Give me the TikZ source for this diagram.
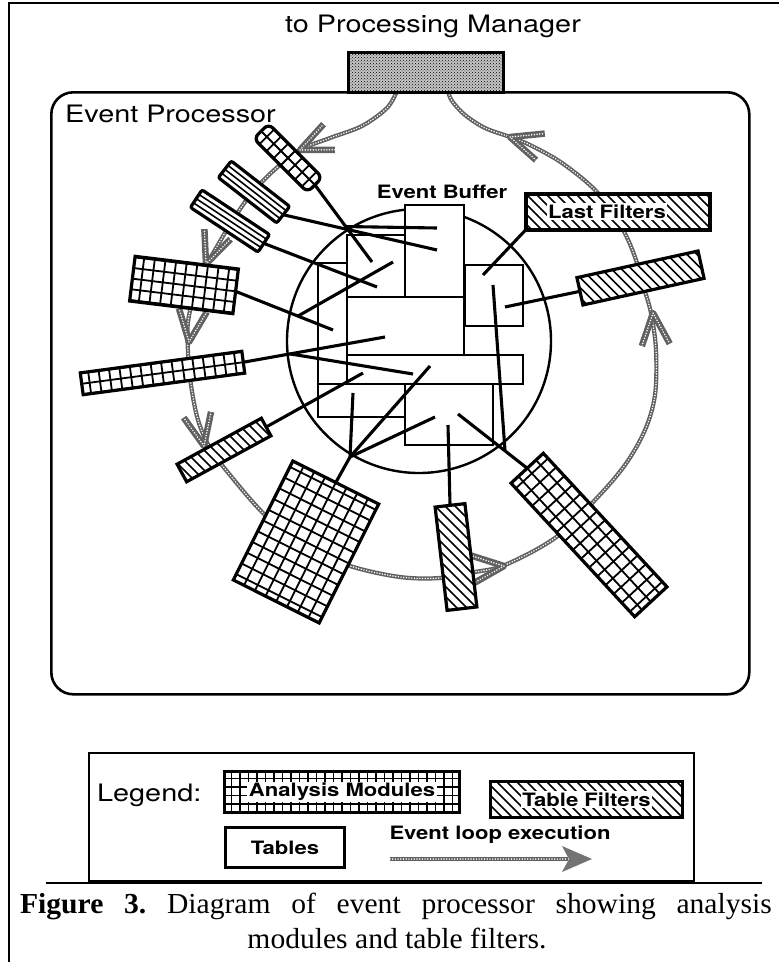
\documentclass[tikz,border=0pt]{standalone}
\usepackage{fontspec}
\newfontfamily\hv{TeX Gyre Heros}
\newfontfamily\tm{Liberation Serif}
\usetikzlibrary{calc,patterns}
\newcommand\sx[1]{\scalebox{1.2}[1]{#1}}
\tikzset{
 modbox/.style={draw, line width=3.2pt, inner sep=0pt, outer sep=0pt},
 gridline/.style={line width=1.8pt},
 hatchline/.style={line width=1.6pt},
 conn/.style={line width=3.1pt},
 tbl/.style={draw, line width=2.6pt, fill=white, inner sep=0pt, outer sep=0pt},
 loopst/.style={draw=black!62, line width=4.2pt, line join=round, postaction={draw=white, line width=1.7pt, line cap=round, dash pattern=on 0pt off 2.7pt}},
 headst/.style={draw=black!62, line width=6.5pt, line join=round, postaction={draw=white, line width=1.7pt, line cap=round, dash pattern=on 0pt off 2.7pt}},
 lhead/.pic={\draw[headst] (-32,-14) -- (0,0) -- (-32,14);},
 lbl/.style={font=\hv\fontsize{24}{28}\selectfont, inner sep=0pt},
 blbl/.style={font=\hv\bfseries\fontsize{18.4}{22}\selectfont, inner sep=0pt},
}
% grid-patterned module: name cx cy rot L W step extra
\newcommand\gridmod[8]{%
 \begin{scope}[shift={(#2,#3)},rotate=#4]
  \fill[white,#8] (-#5/2,-#6/2) rectangle (#5/2,#6/2);
  \begin{scope}
   \clip[#8] (-#5/2,-#6/2) rectangle (#5/2,#6/2);
   \foreach \i in {-10,...,10}{
     \draw[gridline] (\i*#7,-80) -- (\i*#7,80);
     \draw[gridline] (-125,\i*#7) -- (125,\i*#7);}
  \end{scope}
 \end{scope}
 \node[modbox,rotate=#4,minimum width=#5pt,minimum height=#6pt,#8] (#1) at (#2,#3) {};
}
% hatched filter: name cx cy rot L W
\newcommand\hatchmod[6]{%
 \begin{scope}[shift={(#2,#3)},rotate=#4]
  \fill[white] (-#5/2,-#6/2) rectangle (#5/2,#6/2);
  \begin{scope}
   \clip (-#5/2,-#6/2) rectangle (#5/2,#6/2);
   \begin{scope}[rotate={0-(#4)}]
    \foreach \i in {-16,...,16} \draw[hatchline] (\i*10-90,-90) -- (\i*10+90,90);
   \end{scope}
  \end{scope}
 \end{scope}
 \node[modbox,rotate=#4,minimum width=#5pt,minimum height=#6pt] (#1) at (#2,#3) {};
}
% striped filter: name cx cy rot L W
\newcommand\stripemod[6]{%
 \begin{scope}[shift={(#2,#3)},rotate=#4]
  \fill[white] (-#5/2,-#6/2) rectangle (#5/2,#6/2);
  \foreach \v in {-5,0,5} \draw[hatchline] (-#5/2,\v) -- (#5/2,\v);
 \end{scope}
 \node[modbox,rotate=#4,minimum width=#5pt,minimum height=#6pt,rounded corners=2pt] (#1) at (#2,#3) {};
}
\newcommand\tbox[5]{\node[tbl,anchor=north west,minimum width={(#4-#2)*1pt},minimum height={(#5-#3)*1pt}] (#1) at (#2,#3) {};}
\begin{document}
\begin{tikzpicture}[x=1pt,y=-1pt]
\useasboundingbox (0,0) rectangle (779,962);
% frame
\draw[line width=2pt] (9,962) -- (9,3) -- (779,3);
\node[lbl,anchor=base] (pmlbl) at (433,32) {\sx{to Processing Manager}};
\node[draw,line width=2.6pt,rounded corners=22pt,minimum width=698pt,minimum height=602pt,anchor=north west,inner sep=0pt] (ep) at (50,91) {};
\node[lbl,anchor=base west] (eplbl) at (65,122) {\sx{Event Processor}};
% event loop
\coordinate (ls) at (397,91); \coordinate (le) at (448,91);
\draw[loopst] plot[smooth,tension=0.55] coordinates {(397,91) (387,108) (362,126) (330,138) (300,150) (272,172) (248,198) (228,228) (212,255) (205,266) (195,292) (188,322) (188,352) (191,385) (198,420) (210,448) (230,475) (263,513) (300,545) (350,566) (400,577) (440,578) (475,572) (505,565) (555,538) (595,500) (625,465) (645,430) (655,395) (656,350) (651,313) (643,285) (635,257) (622,228) (597,192) (562,163) (530,145) (510,137) (485,128) (465,115) (452,101) (448,91)};
\pic[rotate=-156] at (300,150) {lhead};
\pic[rotate=-111] at (206,264) {lhead};
\pic[rotate=-97] at (189,342) {lhead};
\pic[rotate=-78] at (204,446) {lhead};
\pic[rotate=6] at (504,566) {lhead};
\pic[rotate=95] at (653,313) {lhead};
\pic[rotate=-198] at (510,137) {lhead};
% processing manager box
\node[draw,line width=2.8pt,anchor=north west,minimum width=155pt,minimum height=40pt,inner sep=0pt,preaction={fill=gray!45},pattern=crosshatch dots,pattern color=black] (pm) at (347,51) {};
% event buffer
\node[draw,circle,line width=2.4pt,minimum size=264pt,inner sep=0pt] (buf) at (419,341) {};
\node[blbl,anchor=base] (eb) at (442,198) {\sx{Event Buffer}};
\tbox{ta}{318}{263}{347}{384}
\tbox{tb}{318}{384}{405}{417}
\tbox{tc}{347}{235}{405}{297}
\tbox{td}{405}{205}{464}{297}
\tbox{te}{347}{297}{464}{355}
\tbox{tf}{347}{355}{523}{384}
\tbox{tg}{465}{265}{523}{326}
\tbox{th}{405}{384}{493}{445}
% modules and filters
\gridmod{m1}{288}{158}{-45}{76}{21}{10}{rounded corners=6pt}
\stripemod{m2}{254}{192}{-37.9}{74}{21}
\stripemod{m3}{230}{221}{-33.5}{81}{21}
\gridmod{m4}{184}{285}{-7}{104}{45}{10.7}{}
\gridmod{m5}{162.5}{373}{7.6}{163}{22}{10.5}{}
\hatchmod{m6}{224}{450}{28.6}{96}{20}
\gridmod{m7}{306}{542}{-26.6}{96}{133}{12}{}
\hatchmod{m8}{640.5}{278}{12.4}{124}{28}
\hatchmod{m9}{456}{557}{-83.4}{104}{30}
\gridmod{m10}{589}{535}{-47.2}{182}{44}{12}{}
% last filters
\node[draw,line width=2.6pt,fill=white,minimum width=183pt,minimum height=35pt,anchor=north west,inner sep=0pt] (lf) at (525,193) {};
\begin{scope}
 \clip (525,193) rectangle (708,228);
 \foreach \c in {470,480,...,710} \draw[hatchline] (\c,188) -- (\c+45,233);
\end{scope}
\draw[line width=2.6pt] (lf.north west) rectangle (lf.south east);
\node[blbl,fill=white,inner sep=1.5pt,anchor=base] (lft) at (607,218) {\sx{Last Filters}};
% connector end points
\coordinate (e1) at (372,262);
\coordinate (j1) at ($(m1.east)!0.54!(e1)$);
\coordinate (e2a) at (437,228);
\coordinate (e2b) at (437,250);
\coordinate (e3) at (377,287);
\coordinate (e4a) at (333,330);
\coordinate (e4b) at (393,262);
\coordinate (j4) at ($(m4.east)!0.64!(e4a)$);
\coordinate (e5a) at (385,337);
\coordinate (e5b) at (413,374);
\coordinate (j5) at ($(m5.east)!0.33!(e5a)$);
\coordinate (e6) at (363,373);
\coordinate (j7) at (350,457);
\coordinate (e7a) at (353,393);
\coordinate (e7b) at (430,366);
\coordinate (e7c) at (435,417);
\coordinate (e8) at (505,307);
\coordinate (e9) at (448,425);
\coordinate (e10) at (458,414);
\coordinate (j10) at ($(m10.west)!0.32!(e10)$);
\coordinate (e11) at (493,285);
\coordinate (e12) at (483,275);
% connectors
\draw[conn] (m1.east) -- (e1);
\draw[conn] (m2.east) -- (e2b);
\draw[conn] (j1) -- (e2a);
\draw[conn] (m3.east) -- (e3);
\draw[conn] (m4.east) -- (e4a);
\draw[conn] (j4) -- (e4b);
\draw[conn] (m5.east) -- (e5a);
\draw[conn] (j5) -- (e5b);
\draw[conn] (m6.east) -- (e6);
\draw[conn] (m7.north) -- (j7) -- (e7a);
\draw[conn] (j7) -- (e7b);
\draw[conn] (j7) -- (e7c);
\draw[conn] (m8.west) -- (e8);
\draw[conn] (m9.west) -- (e9);
\draw[conn] (m10.west) -- (e10);
\draw[conn] (j10) -- (e11);
\draw[conn] (lf.south west) -- (e12);
% legend
\node[draw,line width=2.2pt,anchor=north west,minimum width=605pt,minimum height=128pt,inner sep=0pt] (leg) at (88,752) {};
\node[lbl,anchor=base west] (legt) at (97,801) {\sx{Legend:}};
\fill[white] (223,770) rectangle (458,811);
\begin{scope}
 \clip (223,770) rectangle (458,811);
 \foreach \i in {0,...,28} \draw[line width=1.4pt] (223+\i*8.5,770) -- (223+\i*8.5,811);
 \foreach \i in {0,...,6} \draw[line width=1.4pt] (223,770+\i*8.5) -- (458,770+\i*8.5);
\end{scope}
\node[draw,line width=3pt,anchor=north west,minimum width=235pt,minimum height=41pt,inner sep=0pt] (lam) at (223,770) {};
\node[blbl,fill=white,inner sep=1.5pt] (lamt) at (lam.center) {\sx{Analysis Modules}};
\fill[white] (489,780) rectangle (681,816);
\begin{scope}
 \clip (489,780) rectangle (681,816);
 \foreach \c in {440,450,...,690} \draw[hatchline] (\c,775) -- (\c+45,820);
\end{scope}
\node[draw,line width=3pt,anchor=north west,minimum width=192pt,minimum height=36pt,inner sep=0pt] (ltf) at (489,780) {};
\node[blbl,fill=white,inner sep=1.5pt] (ltft) at (ltf.center) {\sx{Table Filters}};
\node[draw,line width=3pt,anchor=north west,minimum width=119pt,minimum height=40pt,inner sep=0pt] (ltb) at (224,826) {};
\node[blbl] (ltbt) at (ltb.center) {\sx{Tables}};
\node[blbl,anchor=base] (lel) at (500,839) {\sx{Event loop execution}};
\coordinate (la) at (390,859);
\coordinate (lb) at (568,859);
\draw[loopst] (la) -- (lb);
\fill[black!55] (592,859) -- (562,846) -- (569,859) -- (562,872) -- cycle;
% caption
\draw[line width=2.6pt] (46,883) -- (762,883);
\node[font=\tm\fontsize{29}{34}\selectfont\frenchspacing,inner sep=0pt] (cap1) at (396,906) {\scalebox{1.02}[1]{\makebox[737pt][s]{\textbf{Figure 3.} Diagram of event processor showing analysis}}};
\node[font=\tm\fontsize{29}{34}\selectfont,inner sep=0pt] (cap2) at (397,938) {\scalebox{1.02}[1]{modules and table filters.}};
\end{tikzpicture}
\end{document}
